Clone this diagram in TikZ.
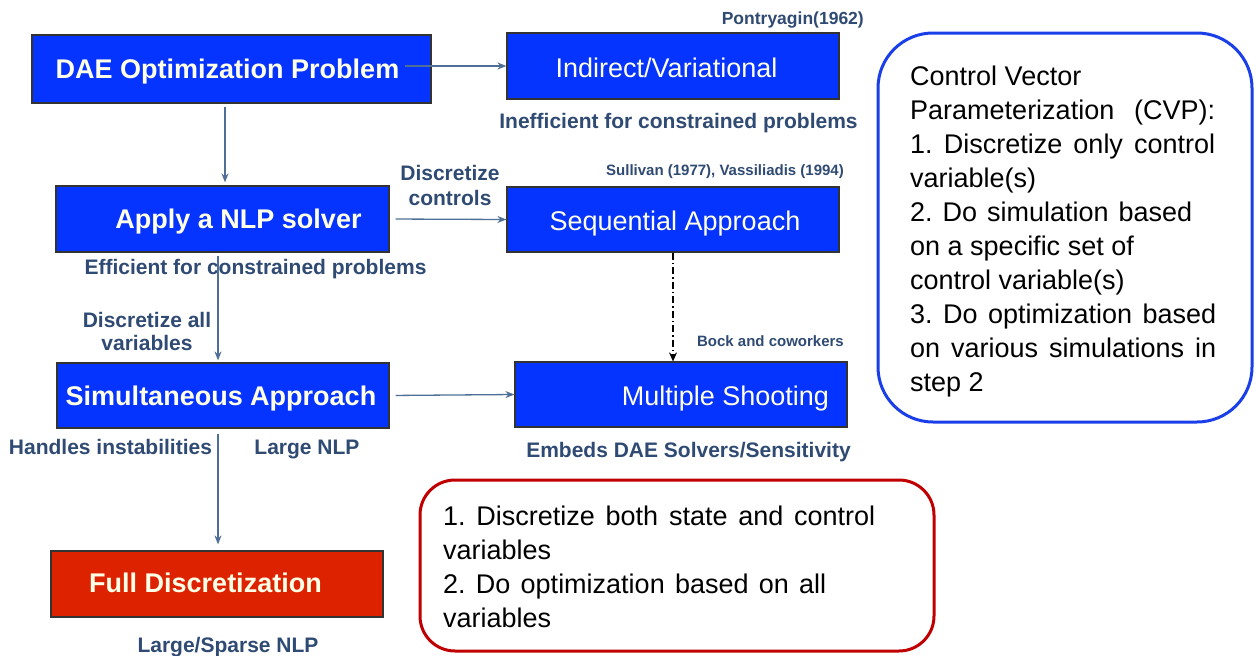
\documentclass[tikz,border=0pt]{standalone}
\usepackage{fontspec}
\setmainfont{Liberation Sans}
\usetikzlibrary{arrows.meta}
\frenchspacing
\definecolor{boxblue}{HTML}{0533FF}
\definecolor{boxred}{HTML}{DD2200}
\definecolor{boxtxt}{HTML}{FFFFE8}
\definecolor{arrcol}{HTML}{4F6F96}
\definecolor{lblcol}{HTML}{2F4A73}
\definecolor{cvpblue}{HTML}{1A3FE8}
\definecolor{notered}{HTML}{C00000}
\tikzset{
  bluebox/.style={draw=black!80, line width=1.2pt, fill=boxblue, inner sep=0pt, minimum width=#1},
  redbox/.style={draw=black!80, line width=1.2pt, fill=boxred, inner sep=0pt},
  btxt/.style={text=boxtxt, font=\fontsize{27}{30}\selectfont\bfseries, inner sep=0pt, anchor=base},
  rtxt/.style={text=boxtxt, font=\fontsize{27}{30}\selectfont, inner sep=0pt, anchor=base},
  lbl/.style={text=lblcol, font=\fontsize{21}{25}\selectfont\bfseries, inner sep=0pt, anchor=base},
  slbl/.style={text=lblcol, font=\fontsize{15}{18}\selectfont\bfseries, inner sep=0pt, anchor=base east},
  arr/.style={draw=arrcol, line width=1.3pt, -{Stealth[length=9pt,width=7pt]}},
  note/.style={font=\fontsize{27}{34}\selectfont, inner sep=0pt, anchor=base west, text=black},
}
\begin{document}
\begin{tikzpicture}[x=1pt,y=-1pt]
\useasboundingbox (0,0) rectangle (1256,656);
\fill[white] (0,0) rectangle (1256,656);

% boxes
\node[bluebox=399pt, minimum height=68pt] (dae) at (231.5,69) {};
\node[bluebox=332pt, minimum height=66pt] (ind) at (673,66) {};
\node[bluebox=333pt, minimum height=66pt] (apply) at (222.5,219) {};
\node[bluebox=332pt, minimum height=65pt] (seq) at (673,219.5) {};
\node[bluebox=332pt, minimum height=65pt] (simul) at (223,395.5) {};
\node[bluebox=332pt, minimum height=65pt] (mult) at (681,394.5) {};
\node[redbox, minimum width=332pt, minimum height=66pt] (full) at (217,584) {};

% box texts (baseline = visual centre + 9.7)
\node[btxt] (daeT) at (227.5,78.7) {DAE Optimization Problem};
\node[rtxt] (indT) at (666.5,77.7) {Indirect/Variational};
\node[btxt] (applyT) at (238.5,228.7) {Apply a NLP solver};
\node[rtxt] (seqT) at (675,230.7) {Sequential Approach};
\node[btxt] (simulT) at (221,405.7) {Simultaneous Approach};
\node[rtxt] (multT) at (725.5,405.7) {Multiple Shooting};
\node[btxt] (fullT) at (205.5,592.7) {Full Discretization};

% labels (baseline = visual centre + 7.5)
\node[slbl, font=\fontsize{17.5}{20}\selectfont\bfseries] (pont) at (864,24.3) {Pontryagin(1962)};
\node[lbl] (ineff) at (678.5,128.5) {Inefficient for constrained problems};
\node[lbl] (eff) at (255.5,274.5) {Efficient for constrained problems};
\node[lbl] (dc1) at (450,180.5) {Discretize};
\node[lbl] (dc2) at (450,205.5) {controls};
\node[slbl] (sull) at (844,175.4) {Sullivan (1977), Vassiliadis (1994)};
\node[slbl] (bock) at (844,346.4) {Bock and coworkers};
\node[lbl] (embed) at (688.5,457.5) {Embeds DAE Solvers/Sensitivity};
\node[lbl] (dav1) at (147,327.5) {Discretize all};
\node[lbl] (dav2) at (147,350.5) {variables};
\node[lbl] (hand) at (110.5,454.5) {Handles instabilities};
\node[lbl] (lnlp) at (307,454.5) {Large NLP};
\node[lbl] (lsnlp) at (228,652) {Large/Sparse NLP};

% connectors
\path (dae.east) ++(-27,-3) coordinate (daeOut);
\draw[arr] (daeOut) -- (ind.west);
\draw[arr, shorten <=6pt] (apply.east) -- (seq.west);
\draw[arr, shorten <=6pt] (simul.east) -- (mult.west);
\draw[arr, shorten <=3pt, shorten >=3pt] ([xshift=-6.5pt]dae.south) -- ([xshift=2.5pt]apply.north);
\draw[arr, shorten <=3pt, shorten >=2pt] ([xshift=-4.5pt]apply.south) -- ([xshift=-5pt]simul.north);
\draw[arr, shorten <=5pt, shorten >=6pt] ([xshift=-5pt]simul.south) -- ([xshift=1pt]full.north);
\draw[black, line width=1.3pt, dash pattern=on 7pt off 3pt on 1.5pt off 3pt, -{Stealth[length=9pt,width=8pt]}] (seq.south) -- ([xshift=-8pt]mult.north);

% CVP note
\draw[cvpblue, line width=3pt, rounded corners=55pt] (878,33) rectangle (1252,422);
\node[note] (c1) at (910,85) {Control Vector};
\node[note] (c2) at (910,119) {\makebox[305pt][s]{Parameterization (CVP):}};
\node[note] (c3) at (910,153) {\makebox[305pt][s]{1. Discretize only control}};
\node[note] (c4) at (910,187) {variable(s)};
\node[note] (c5) at (910,221) {\makebox[282pt][s]{2. Do simulation based}};
\node[note] (c6) at (910,255) {on a specific set of};
\node[note] (c7) at (910,289) {control variable(s)};
\node[note] (c8) at (910,323) {\makebox[306pt][s]{3. Do optimization based}};
\node[note] (c9) at (910,357) {\makebox[306pt][s]{on various simulations in}};
\node[note] (c10) at (910,391) {step 2};

% red note
\draw[notered, line width=3pt, rounded corners=35pt] (420,480) rectangle (934,651);
\node[note] (r1) at (443,525) {\makebox[432pt][s]{1. Discretize both state and control}};
\node[note] (r2) at (443,559) {variables};
\node[note] (r3) at (443,593) {\makebox[383pt][s]{2. Do optimization based on all}};
\node[note] (r4) at (443,627) {variables};
\end{tikzpicture}
\end{document}
